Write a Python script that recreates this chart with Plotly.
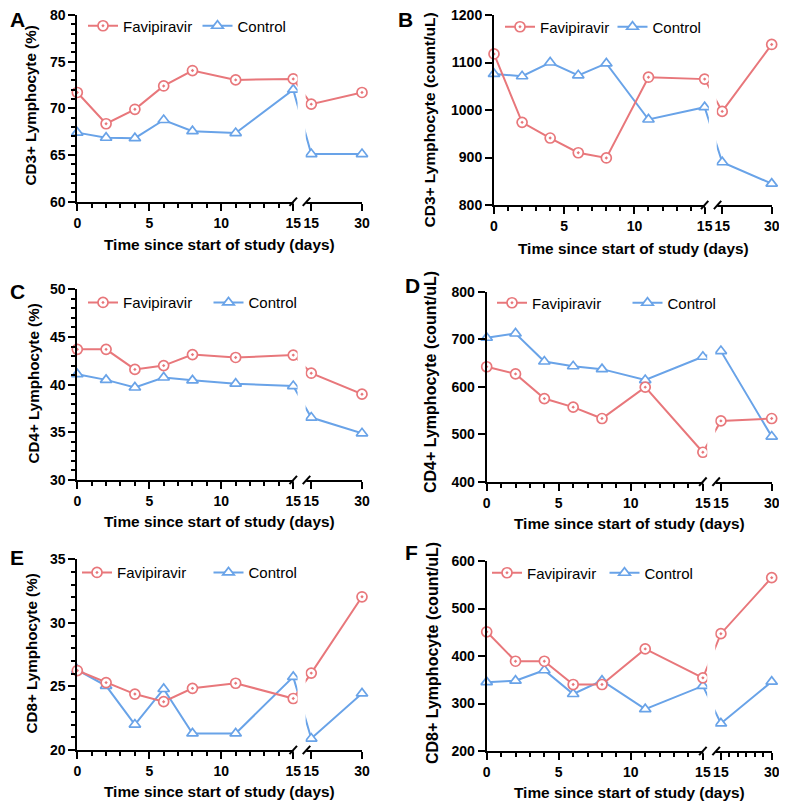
import plotly.graph_objects as go

# the page body has an 8px margin, so the figure starts 8px in from the window corner
OFF = 8
W, H = 787 - OFF, 803 - OFF
RED = "#E8777B"
BLUE = "#69A3E8"
FONT = "Liberation Sans, Arial, sans-serif"

# sampling days; the days after the axis break sit on a compressed scale
DAYS_EARLY = [0, 2, 4, 6, 8, 11, 15]
DAYS_LATE = [15, 30]
EARLY_TICKS = [0, 5, 10, 15]
LATE_TICKS = [15, 30]
EARLY_MINOR = [1, 2, 3, 4, 6, 7, 8, 9, 11, 12, 13, 14]
LATE_MINOR = [17.5, 20, 22.5, 25, 27.5]

# values (early days, then late days)
CD3_PCT_FAVI = [71.7, 68.35, 69.9, 72.4, 74.05, 73.05, 73.15, 70.45, 71.7]
CD3_PCT_CTRL = [67.4, 66.85, 66.8, 68.75, 67.55, 67.35, 72.0, 65.1, 65.1]
CD3_CNT_FAVI = [1118, 974, 941, 910, 899, 1069, 1065, 997, 1138]
CD3_CNT_CTRL = [1076, 1071, 1100, 1073, 1098, 980, 1006, 890, 845]
CD4_PCT_FAVI = [43.7, 43.7, 41.6, 42.0, 43.15, 42.85, 43.1, 41.2, 39.0]
CD4_PCT_CTRL = [41.1, 40.5, 39.7, 40.75, 40.45, 40.1, 39.85, 36.55, 34.9]
CD4_CNT_FAVI = [642, 627, 575, 557, 533, 599, 462, 528, 533]
CD4_CNT_CTRL = [703, 712, 653, 643, 637, 614, 663, 675, 495]
CD8_PCT_FAVI = [26.25, 25.3, 24.4, 23.8, 24.85, 25.25, 24.05, 26.05, 32.05]
CD8_PCT_CTRL = [26.3, 25.05, 22.0, 24.8, 21.3, 21.3, 25.75, 20.9, 24.45]
CD8_CNT_FAVI = [451, 389, 389, 340, 340, 415, 354, 447, 565]
CD8_CNT_CTRL = [345, 348, 370, 320, 348, 288, 337, 258, 346]

# broken x axis: early part in day units, then a gap, then late part squeezed
GAP = 1.25
LATE_K = 0.235
XMAX = 15 + GAP + 15 * LATE_K


def late(d):
    return 15 + GAP + (d - 15) * LATE_K


XS = DAYS_EARLY + [late(d) for d in DAYS_LATE]

# positions below are window pixels
panels = [
    dict(letter="A", ytitle="CD3+ Lymphocyte (%)", yr=[60, 80], dt=5, minor=True,
         favi=CD3_PCT_FAVI, ctrl=CD3_PCT_CTRL, box=(77.3, 362, 15, 201.7),
         leg=(123, 26, 115), let=(8, 20), yt=(30.5, 106, 15.2), xt=(219.5, 245), lminor=False),
    dict(letter="B", ytitle="CD3+ Lymphocyte (count/uL)", yr=[800, 1200], dt=100, minor=False,
         favi=CD3_CNT_FAVI, ctrl=CD3_CNT_CTRL, box=(494, 771.7, 15, 205),
         leg=(540, 27, 113), let=(396, 20), yt=(429.5, 120, 15.5), xt=(633, 248.3), lminor=False),
    dict(letter="C", ytitle="CD4+ Lymphocyte (%)", yr=[30, 50], dt=5, minor=True,
         favi=CD4_PCT_FAVI, ctrl=CD4_PCT_CTRL, box=(77.3, 362, 289.3, 480),
         leg=(123, 302.7, 126), let=(8, 292), yt=(32.5, 384, 15.2), xt=(219.5, 521.7), lminor=False),
    dict(letter="D", ytitle="CD4+ Lymphocyte (count/uL)", yr=[400, 800], dt=100, minor=False,
         favi=CD4_CNT_FAVI, ctrl=CD4_CNT_CTRL, box=(486.7, 771.7, 291.7, 481.7),
         leg=(532, 303, 136), let=(403, 286), yt=(430, 382, 16), xt=(629, 523), lminor=False),
    dict(letter="E", ytitle="CD8+ Lymphocyte (%)", yr=[20, 35], dt=5, minor=True,
         favi=CD8_PCT_FAVI, ctrl=CD8_PCT_CTRL, box=(77.3, 362, 559.3, 750),
         leg=(117, 572.7, 132), let=(8, 557), yt=(30.5, 654, 15.2), xt=(219.5, 791.7), lminor=False),
    dict(letter="F", ytitle="CD8+ Lymphocyte (count/uL)", yr=[200, 600], dt=100, minor=False,
         favi=CD8_CNT_FAVI, ctrl=CD8_CNT_CTRL, box=(486.7, 771.7, 561, 751),
         leg=(527, 573, 118), let=(403, 552), yt=(432, 653, 16), xt=(629, 792.5), lminor=True),
]


def px(x):
    return (x - OFF) / W


def py(y):
    return 1 - (y - OFF) / H


fig = go.Figure()
layout = dict(width=W, height=H, margin=dict(l=0, r=0, t=0, b=0, autoexpand=False),
              paper_bgcolor="white", plot_bgcolor="white",
              font=dict(family=FONT, color="black"), showlegend=True)
shapes, annotations = [], []

for i, p in enumerate(panels, start=1):
    sfx = "" if i == 1 else str(i)
    xa, ya, lg = "x" + sfx, "y" + sfx, "legend" + sfx
    x0, x1, y0, y1 = p["box"]

    for name, vals, col, sym, rank in [("Control", p["ctrl"], BLUE, "triangle-up", 2),
                                       ("Favipiravir", p["favi"], RED, "circle-dot", 1)]:
        fig.add_trace(go.Scatter(
            x=XS, y=vals, name=name, mode="lines+markers", xaxis=xa, yaxis=ya,
            legend=lg, legendrank=rank, cliponaxis=False,
            line=dict(color=col, width=2),
            marker=dict(symbol=sym, size=10, color="white", line=dict(color=col, width=1.7)),
        ))

    tickvals = EARLY_TICKS + [late(d) for d in LATE_TICKS]
    ticktext = [str(d) for d in EARLY_TICKS + LATE_TICKS]
    minor_x = EARLY_MINOR + ([late(d) for d in LATE_MINOR] if p["lminor"] else [])
    layout["xaxis" + sfx] = dict(
        domain=[px(x0), px(x1)], anchor=ya, range=[0, XMAX],
        showline=True, linecolor="black", linewidth=2, showgrid=False, zeroline=False,
        ticks="outside", ticklen=7, tickwidth=2, tickcolor="black",
        tickmode="array", tickvals=tickvals, ticktext=ticktext, tickangle=0,
        tickfont=dict(size=14, weight="bold"), ticklabeloverflow="allow",
        minor=dict(tickvals=minor_x, ticks="outside", ticklen=4, tickwidth=2,
                   tickcolor="black", showgrid=False),
    )
    yax = dict(
        domain=[py(y1), py(y0)], anchor=xa, range=p["yr"],
        showline=True, linecolor="black", linewidth=2, showgrid=False, zeroline=False,
        ticks="outside", ticklen=7, tickwidth=2, tickcolor="black",
        tick0=p["yr"][0], dtick=p["dt"], tickfont=dict(size=14, weight="bold"),
        ticklabeloverflow="allow",
    )
    if p["minor"]:
        yax["minor"] = dict(dtick=1, ticks="outside", ticklen=4, tickwidth=2,
                            tickcolor="black", showgrid=False)
    layout["yaxis" + sfx] = yax

    lx, ly, spacing = p["leg"]
    layout[lg] = dict(x=px(lx - 40), y=py(ly), xanchor="left", yanchor="middle",
                      orientation="h", entrywidth=spacing - 45.5, entrywidthmode="pixels",
                      bgcolor="rgba(0,0,0,0)", font=dict(size=15, family=FONT),
                      itemclick=False, itemdoubleclick=False)

    # axis break: blank out the gap, then draw the two slashes
    yd = ya + " domain"
    shapes += [
        dict(type="rect", xref=xa, yref=yd, x0=15.3, x1=15.86, y0=-0.03, y1=1.04,
             fillcolor="white", line=dict(width=0), layer="above"),
        dict(type="rect", xref=xa, yref=yd, x0=15.03, x1=15.9, y0=-0.012, y1=0.012,
             fillcolor="white", line=dict(width=0), layer="above"),
        dict(type="line", xref=xa, yref=yd, x0=15 - 0.26, x1=15 + 0.26, y0=-0.022, y1=0.022,
             line=dict(color="black", width=2), layer="above"),
        dict(type="line", xref=xa, yref=yd, x0=15.92 - 0.26, x1=15.92 + 0.26, y0=-0.022, y1=0.022,
             line=dict(color="black", width=2), layer="above"),
    ]

    ax_, ay_ = p["let"]
    annotations.append(dict(text="<b>%s</b>" % p["letter"], x=px(ax_), y=py(ay_),
                            xref="paper", yref="paper", xanchor="left", yanchor="middle",
                            showarrow=False, font=dict(size=21)))
    tx, ty, ts = p["yt"]
    annotations.append(dict(text="<b>%s</b>" % p["ytitle"], x=px(tx), y=py(ty),
                            xref="paper", yref="paper", xanchor="center", yanchor="middle",
                            textangle=-90, showarrow=False, font=dict(size=ts)))
    qx, qy = p["xt"]
    annotations.append(dict(text="<b>Time since start of study (days)</b>", x=px(qx), y=py(qy),
                            xref="paper", yref="paper", xanchor="center", yanchor="middle",
                            showarrow=False, font=dict(size=15.4)))

layout["shapes"] = shapes
layout["annotations"] = annotations
fig.update_layout(**layout)
fig.write_html("out.html")
